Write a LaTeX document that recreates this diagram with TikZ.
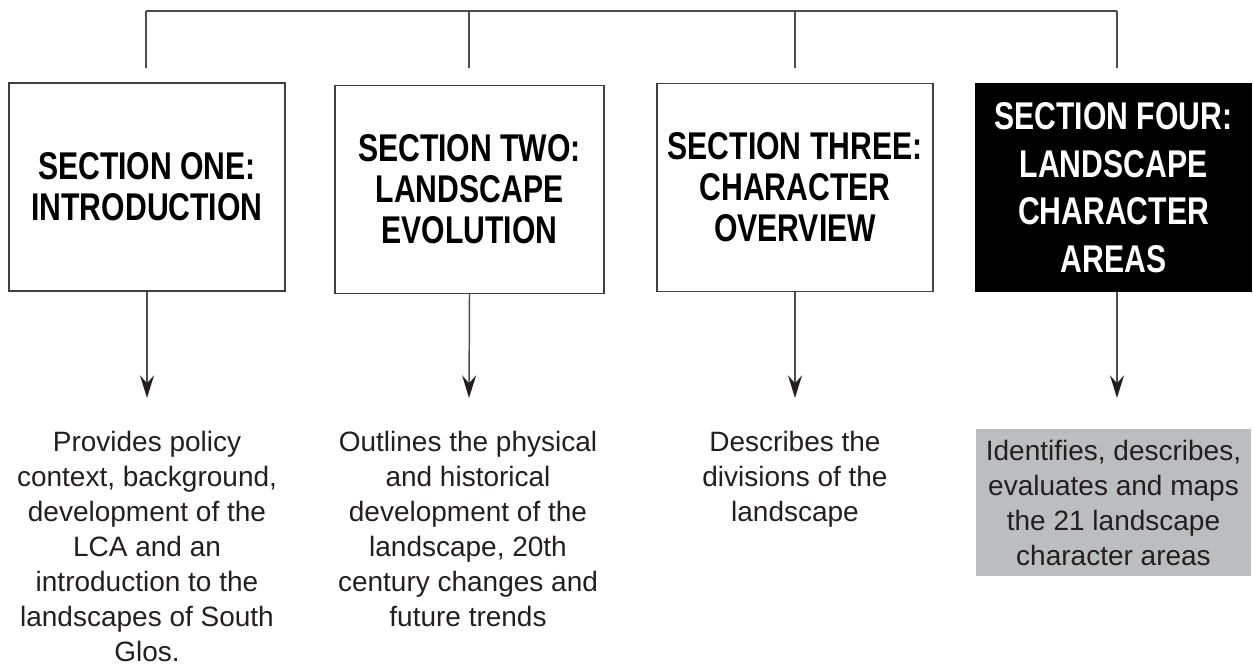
\documentclass[tikz,border=0pt]{standalone}
\usepackage{fontspec}
\setmainfont{Liberation Sans}
\newfontfamily\headfont[FakeStretch=0.78]{Liberation Sans}
\usepackage{tikz}
\usetikzlibrary{arrows.meta, positioning, calc}
\definecolor{panelgrey}{HTML}{BCBDC0}
\definecolor{inkgrey}{HTML}{231F20}
\tikzset{
  secbox/.style={rectangle,draw=black!75,line width=1.1pt,fill=white,
    minimum width=207pt,minimum height=156pt,align=center,text=black,
    font=\headfont\bfseries\fontsize{29}{30.75}\selectfont},
  darkbox/.style={secbox,draw=black,fill=black,text=white,
    font=\headfont\bfseries\fontsize{29}{35.6}\selectfont},
  descnode/.style={inner sep=0pt,anchor=north,align=center,text=inkgrey,
    font=\fontsize{21}{26.25}\selectfont},
  greydesc/.style={rectangle,fill=panelgrey,inner sep=0pt,align=center,
    minimum width=206.25pt,minimum height=110pt,text=inkgrey,
    font=\fontsize{21}{26.25}\selectfont},
  link/.style={draw=black!70,line width=1.1pt},
  arrow/.style={link,-{Stealth[length=17pt,width=10.5pt,inset=6pt,color=inkgrey]}}
}
\begin{document}
\begin{tikzpicture}[x=0.75pt,y=-0.75pt]
  \useasboundingbox (0,0) rectangle (1253,670);

  % section boxes
  \node[secbox] (sec1) at (147,187) {SECTION ONE:\\INTRODUCTION};
  \node[secbox, minimum width=201.75pt] (sec2) at (469.5,189.5)
    {SECTION TWO:\\LANDSCAPE\\EVOLUTION};
  \node[secbox] (sec3) at (795,187.5) {SECTION THREE:\\CHARACTER\\OVERVIEW};
  \node[darkbox, minimum width=206.25pt] (sec4) at (1113.5,187.5)
    {SECTION FOUR:\\LANDSCAPE\\CHARACTER\\AREAS};

  % top bracket
  \coordinate (top1) at (146,11);
  \coordinate (top2) at (469,11);
  \coordinate (top3) at (795,11);
  \coordinate (top4) at (1117,11);
  \coordinate (stub1) at (146,68);
  \coordinate (stub2) at (469,68);
  \coordinate (stub3) at (795,68);
  \coordinate (stub4) at (1117,68);
  \draw[link] (top1) -- (top4);
  \foreach \i in {1,...,4}
    \draw[link] (top\i) -- (stub\i);

  % descriptions
  \node[descnode] (desc1) at (147,431) {Provides policy\\context, background,\\development of the\\LCA and an\\introduction to the\\landscapes of South\\Glos.};
  \node[descnode] (desc2) at (468,431) {Outlines the physical\\and historical\\development of the\\landscape, 20th\\century changes and\\future trends};
  \node[descnode] (desc3) at (795,431) {Describes the\\divisions of the\\landscape};
  \node[greydesc] (desc4) at (1113.5,502.5) {Identifies, describes,\\evaluates and maps\\the 21 landscape\\character areas};

  % arrows
  \coordinate (tip1) at (147,398);
  \coordinate (tip2) at (469,398);
  \coordinate (tip3) at (795,398);
  \coordinate (tip4) at (1117,398);
  \draw[arrow] (sec1.south) -- (tip1);
  \draw[arrow] (sec2.south) -- (tip2);
  \draw[arrow] (sec3.south) -- (tip3);
  \draw[arrow] (sec4.south -| tip4) -- (tip4);
\end{tikzpicture}
\end{document}
